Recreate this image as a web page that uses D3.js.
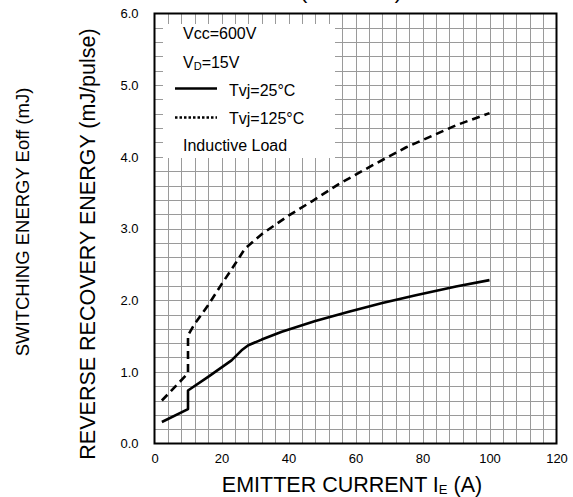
<!DOCTYPE html>
<html>
<head>
<meta charset="utf-8">
<script src="https://cdn.jsdelivr.net/npm/d3@7"></script>
<style>
  body { margin: 0; background: #fff; }
  text { font-family: "Liberation Sans", Arial, sans-serif; fill: #000; }
</style>
</head>
<body>
<svg id="chart" width="573" height="497"></svg>
<script>
// curve at Tvj=25°C (solid)
const ie25 = [2.2, 10, 10, 16, 23, 26, 28, 32, 38, 48, 58, 68, 78, 90, 100];
const e25  = [0.30, 0.48, 0.74, 0.93, 1.16, 1.30, 1.37, 1.45, 1.56, 1.71, 1.84, 1.96, 2.07, 2.19, 2.28];
// curve at Tvj=125°C (dashed)
const ie125 = [2.2, 10, 10, 12, 16, 20, 24, 27, 32, 40, 47, 55, 65, 75, 90, 100];
const e125  = [0.60, 0.98, 1.51, 1.67, 1.93, 2.22, 2.50, 2.72, 2.92, 3.18, 3.38, 3.62, 3.88, 4.13, 4.44, 4.61];

const xTicks = [0, 20, 40, 60, 80, 100, 120];
const yTicks = [0, 1, 2, 3, 4, 5, 6];
const legendNotes = ["Vcc=600V", "=15V", "Inductive Load"];
const seriesNames = ["Tvj=25°C", "Tvj=125°C"];

const svg = d3.select("#chart");
const m = { left: 154.5, right: 556.5, top: 13.5, bottom: 443.5 };

const x = d3.scaleLinear().domain([0, 120]).range([m.left, m.right]);
const y = d3.scaleLinear().domain([0, 6]).range([m.bottom, m.top]);

// grid, every 4 A and every 0.2 mJ
const grid = svg.append("g").attr("stroke", "#9a9a9a").attr("stroke-width", 1);
d3.range(4, 120, 4).forEach(v => {
  grid.append("line").attr("x1", Math.round(x(v)) + 0.5).attr("x2", Math.round(x(v)) + 0.5)
    .attr("y1", m.top).attr("y2", m.bottom);
});
d3.range(1, 30).forEach(i => {
  const yy = Math.round(y(i * 0.2)) + 0.5;
  grid.append("line").attr("x1", m.left).attr("x2", m.right).attr("y1", yy).attr("y2", yy);
});

// legend box hides grid
svg.append("rect").attr("x", 163).attr("y", 24).attr("width", 172).attr("height", 134).attr("fill", "#fff");

// frame
svg.append("rect").attr("x", m.left).attr("y", m.top)
  .attr("width", m.right - m.left).attr("height", m.bottom - m.top)
  .attr("fill", "none").attr("stroke", "#000").attr("stroke-width", 2);

// axes
const yAxis = svg.append("g").attr("transform", `translate(${m.left},0)`)
  .call(d3.axisLeft(y).tickValues(yTicks).tickFormat(d3.format(".1f")).tickSize(0).tickPadding(16));
const xAxis = svg.append("g").attr("transform", `translate(0,${m.bottom})`)
  .call(d3.axisBottom(x).tickValues(xTicks).tickSize(0).tickPadding(10));
[yAxis, xAxis].forEach(a => {
  a.select(".domain").remove();
  a.selectAll("text").attr("font-size", 13).attr("font-family", "Liberation Sans, Arial, sans-serif");
});

// curves
const line = d3.line().x(d => x(d[0])).y(d => y(d[1]));
svg.append("path").datum(d3.zip(ie25, e25)).attr("d", line)
  .attr("fill", "none").attr("stroke", "#000").attr("stroke-width", 2.6).attr("stroke-linejoin", "round");
svg.append("path").datum(d3.zip(ie125, e125)).attr("d", line)
  .attr("fill", "none").attr("stroke", "#000").attr("stroke-width", 2.6).attr("stroke-dasharray", "8,5");

// legend
const lg = svg.append("g").attr("font-size", 16);
lg.append("text").attr("x", 183).attr("y", 39).text(legendNotes[0]);
const vd = lg.append("text").attr("x", 183).attr("y", 68);
vd.append("tspan").text("V");
vd.append("tspan").attr("font-size", 11).attr("dy", 2).text("D");
vd.append("tspan").attr("dy", -2).text(legendNotes[1]);
lg.append("line").attr("x1", 175).attr("x2", 217).attr("y1", 88.5).attr("y2", 88.5)
  .attr("stroke", "#000").attr("stroke-width", 2.6);
lg.append("text").attr("x", 229).attr("y", 96).text(seriesNames[0]);
lg.append("line").attr("x1", 175).attr("x2", 217).attr("y1", 117.5).attr("y2", 117.5)
  .attr("stroke", "#000").attr("stroke-width", 2.4).attr("stroke-dasharray", "2.5,2");
lg.append("text").attr("x", 229).attr("y", 124).text(seriesNames[1]);
lg.append("text").attr("x", 183).attr("y", 151).text(legendNotes[2]);

// title, mostly above the visible area
svg.append("text").attr("x", 351).attr("y", -1).attr("text-anchor", "middle")
  .attr("font-size", 21).text("(TYPICAL)");

// axis titles
const xt = svg.append("text").attr("x", 352).attr("y", 492).attr("text-anchor", "middle").attr("font-size", 21.5);
xt.append("tspan").text("EMITTER CURRENT I");
xt.append("tspan").attr("font-size", 13).attr("dy", 2).text("E");
xt.append("tspan").attr("dy", -2).text(" (A)");

svg.append("text").attr("transform", "translate(95,244) rotate(-90)").attr("text-anchor", "middle")
  .attr("font-size", 21.5).text("REVERSE RECOVERY ENERGY (mJ/pulse)");
svg.append("text").attr("transform", "translate(29,222) rotate(-90)").attr("text-anchor", "middle")
  .attr("font-size", 18.5).text("SWITCHING ENERGY Eoff (mJ)");
</script>
</body>
</html>
